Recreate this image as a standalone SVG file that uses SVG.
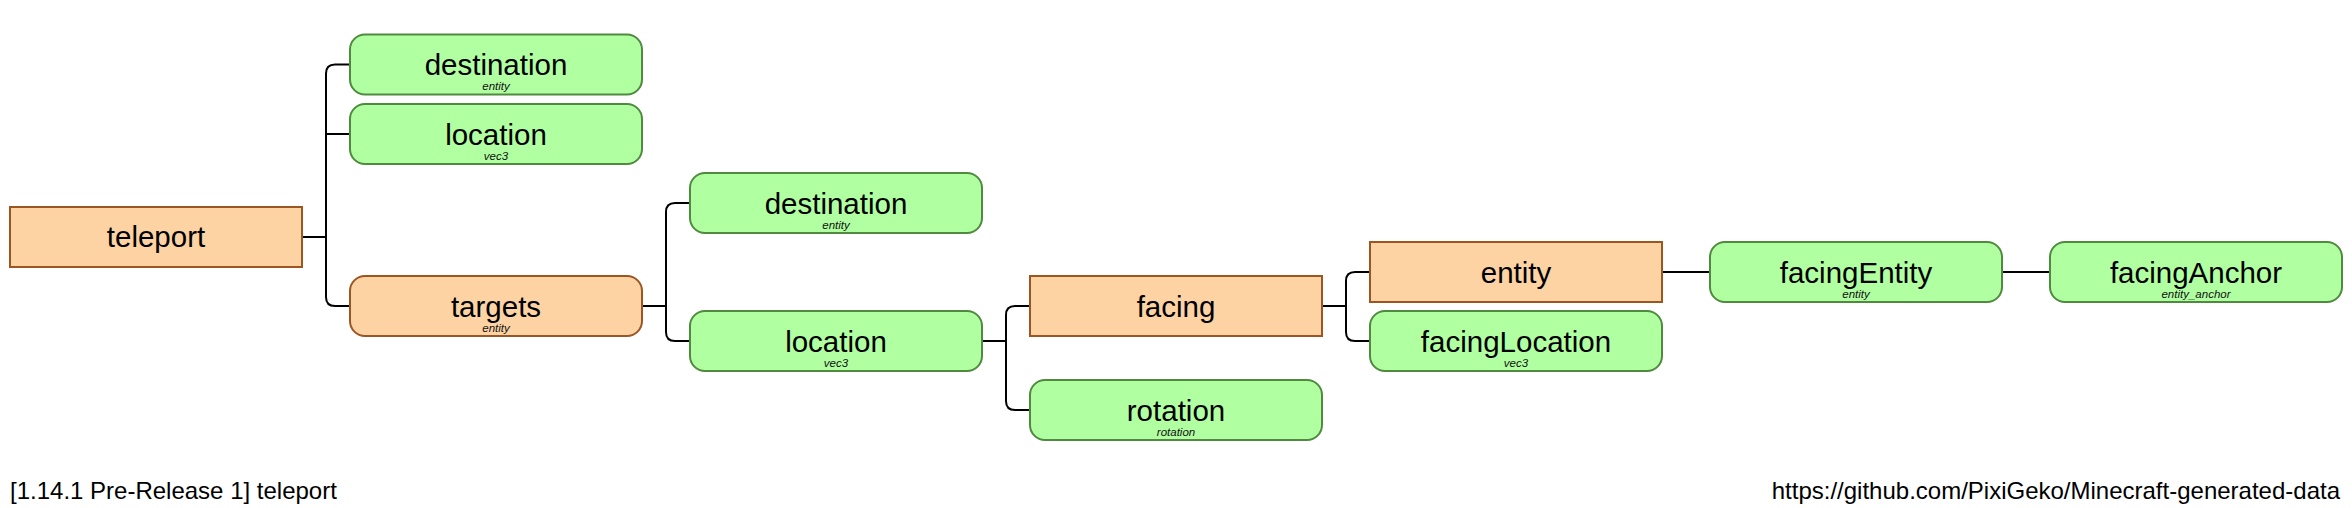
<svg xmlns="http://www.w3.org/2000/svg" width="2352" height="508" viewBox="0 0 2352 508">
<style>
.bg{fill:#ffffff}
.lit{fill:#b0ffa1;stroke:#4f8a3f;stroke-width:2}
.cmd{fill:#fed3a4;stroke:#9c5622;stroke-width:2}
.lbl{font-family:"Liberation Sans",Arial,sans-serif;font-size:29.5px;fill:#000;text-anchor:middle}
.sub{font-family:"Liberation Sans",Arial,sans-serif;font-size:11.5px;font-style:italic;fill:#111;text-anchor:middle}
.foot{font-family:"Liberation Sans",Arial,sans-serif;font-size:24px;fill:#000}
.con{fill:none;stroke:#000;stroke-width:2}
</style>
<rect class="bg" x="0" y="0" width="2352" height="508"/>
<g id="connectors">
<path class="con" d="M302,237 H326 M350,64.5 H335 Q326,64.5 326,73.5 V297 Q326,306 335,306 H350 M326,134 H350"/>
<path class="con" d="M642,306 H666 M690,203 H675 Q666,203 666,212 V332 Q666,341 675,341 H690"/>
<path class="con" d="M982,341 H1006 M1030,306 H1015 Q1006,306 1006,315 V401 Q1006,410 1015,410 H1030"/>
<path class="con" d="M1322,306 H1346 M1370,272 H1355 Q1346,272 1346,281 V332 Q1346,341 1355,341 H1370"/>
<path class="con" d="M1662,272 H1710"/>
<path class="con" d="M2002,272 H2050"/>
</g>
<g id="teleport">
<rect class="cmd" x="10" y="207" width="292" height="60"/>
<text class="lbl" x="156" y="247">teleport</text>
</g>
<g id="destination1">
<rect class="lit" x="350" y="34.5" width="292" height="60" rx="15"/>
<text class="lbl" x="496" y="75">destination</text>
<text class="sub" x="496" y="90">entity</text>
</g>
<g id="location1">
<rect class="lit" x="350" y="104" width="292" height="60" rx="15"/>
<text class="lbl" x="496" y="144.5">location</text>
<text class="sub" x="496" y="159.5">vec3</text>
</g>
<g id="targets">
<rect class="cmd" x="350" y="276" width="292" height="60" rx="15"/>
<text class="lbl" x="496" y="316.5">targets</text>
<text class="sub" x="496" y="331.5">entity</text>
</g>
<g id="destination2">
<rect class="lit" x="690" y="173" width="292" height="60" rx="15"/>
<text class="lbl" x="836" y="213.5">destination</text>
<text class="sub" x="836" y="228.5">entity</text>
</g>
<g id="location2">
<rect class="lit" x="690" y="311" width="292" height="60" rx="15"/>
<text class="lbl" x="836" y="351.5">location</text>
<text class="sub" x="836" y="366.5">vec3</text>
</g>
<g id="facing">
<rect class="cmd" x="1030" y="276" width="292" height="60"/>
<text class="lbl" x="1176" y="316.5">facing</text>
</g>
<g id="rotation">
<rect class="lit" x="1030" y="380" width="292" height="60" rx="15"/>
<text class="lbl" x="1176" y="420.5">rotation</text>
<text class="sub" x="1176" y="435.5">rotation</text>
</g>
<g id="entity">
<rect class="cmd" x="1370" y="242" width="292" height="60"/>
<text class="lbl" x="1516" y="282.5">entity</text>
</g>
<g id="facingLocation">
<rect class="lit" x="1370" y="311" width="292" height="60" rx="15"/>
<text class="lbl" x="1516" y="351.5">facingLocation</text>
<text class="sub" x="1516" y="366.5">vec3</text>
</g>
<g id="facingEntity">
<rect class="lit" x="1710" y="242" width="292" height="60" rx="15"/>
<text class="lbl" x="1856" y="282.5">facingEntity</text>
<text class="sub" x="1856" y="297.5">entity</text>
</g>
<g id="facingAnchor">
<rect class="lit" x="2050" y="242" width="292" height="60" rx="15"/>
<text class="lbl" x="2196" y="282.5">facingAnchor</text>
<text class="sub" x="2196" y="297.5">entity_anchor</text>
</g>
<text class="foot" x="10" y="499">[1.14.1 Pre-Release 1] teleport</text>
<text class="foot" x="2340" y="499" text-anchor="end">https://github.com/PixiGeko/Minecraft-generated-data</text>
</svg>
